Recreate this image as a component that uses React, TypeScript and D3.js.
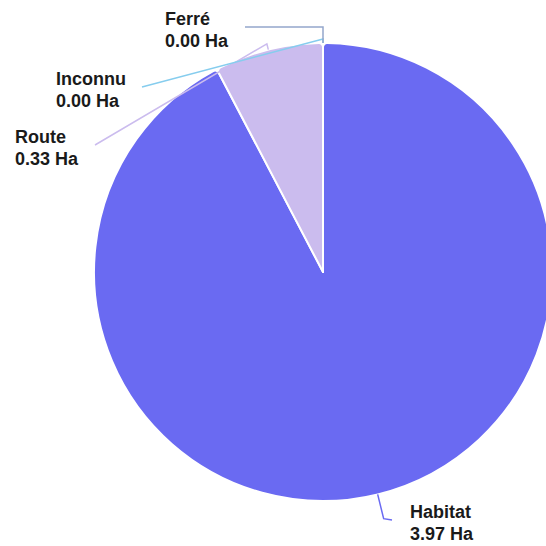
import React, { useRef, useEffect } from 'react';
import * as d3 from 'd3';

const W = 546;
const H = 546;

// data
const CATEGORIES = ['Habitat', 'Route', 'Inconnu', 'Ferré'];
const VALUES = [3.97, 0.33, 0.0, 0.0];
const COLORS = ['#6a6af2', '#cbbcee', '#86cdee', '#94a6cc'];
const UNIT = 'Ha';

// label placement: first-segment length beyond the rim, end point of the leader
// (relative to pie centre), and which side the text goes
const LABEL_LAYOUT = [
  { len1: 25, end: [69, 248], side: 'right' },
  { len1: 6, end: [-228, -127], side: 'left' },
  { len1: 4, end: [-181, -185], side: 'left' },
  { len1: 16, end: [-78, -245], side: 'left' },
];

const CX = 323;
const CY = 272;
const R = 229;

const App: React.FC = () => {
  const svgRef = useRef<SVGSVGElement>(null);

  useEffect(() => {
    if (!svgRef.current) return;
    const svg = d3.select(svgRef.current);
    svg.selectAll('*').remove();

    const pie = d3
      .pie<number>()
      .sort(null)
      .value((d) => d)
      .startAngle(0)
      .endAngle(Math.PI * 2);
    const arcs = pie(VALUES);

    const arc = d3
      .arc<d3.PieArcDatum<number>>()
      .innerRadius(0)
      .outerRadius(R)
      .cornerRadius(4);

    const g = svg.append('g').attr('transform', `translate(${CX}, ${CY})`);

    g.selectAll('path.slice')
      .data(arcs)
      .enter()
      .append('path')
      .attr('class', 'slice')
      .attr('d', (d) => arc(d) ?? '')
      .attr('fill', (d, i) => COLORS[i])
      .attr('stroke', '#ffffff')
      .attr('stroke-width', 2)
      .attr('stroke-linejoin', 'round');

    const polar = (a: number, r: number): [number, number] => [r * Math.sin(a), -r * Math.cos(a)];

    arcs.forEach((d, i) => {
      const lay = LABEL_LAYOUT[i];
      const mid = (d.startAngle + d.endAngle) / 2;
      const p1 = polar(mid, R);
      const p2 = polar(mid, R + lay.len1);
      const p3 = lay.end as [number, number];

      g.append('polyline')
        .attr('points', [p1, p2, p3].map((p) => p.join(',')).join(' '))
        .attr('fill', 'none')
        .attr('stroke', COLORS[i])
        .attr('stroke-width', 1.5);

      const t = g
        .append('text')
        .attr('font-family', 'Liberation Sans, Arial, sans-serif')
        .attr('font-size', '18px')
        .attr('font-weight', 'bold')
        .attr('fill', '#1a1a1a')
        .attr('stroke', '#ffffff')
        .attr('stroke-width', 1)
        .attr('paint-order', 'stroke');
      t.append('tspan').attr('x', 0).attr('y', p3[1] - 2).text(CATEGORIES[i]);
      t.append('tspan').attr('x', 0).attr('y', p3[1] + 20).text(`${VALUES[i].toFixed(2)} ${UNIT}`);

      const bw = (t.node() as SVGTextElement).getBBox().width;
      const x = lay.side === 'right' ? p3[0] + 18 : p3[0] - 16 - bw;
      t.selectAll('tspan').attr('x', x);
    });
  }, []);

  return (
    <svg
      ref={svgRef}
      width={W}
      height={H}
      style={{ position: 'absolute', left: 0, top: 0, background: '#ffffff' }}
    />
  );
};

export default App;
